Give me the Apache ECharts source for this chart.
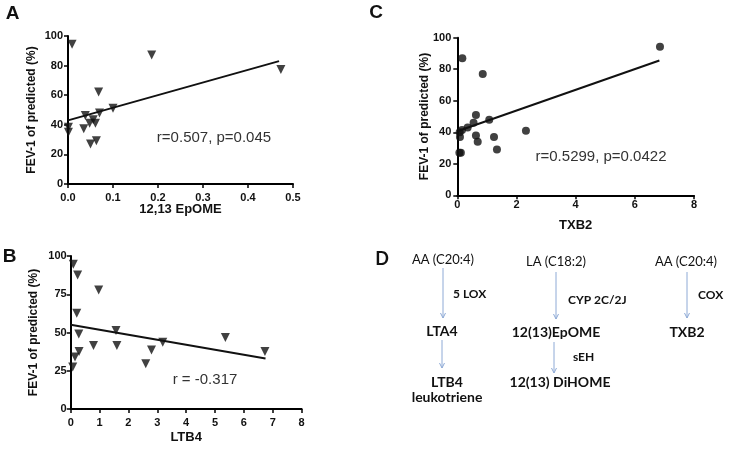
<!DOCTYPE html>
<html><head><meta charset="utf-8">
<script src="https://cdn.jsdelivr.net/npm/echarts@6/dist/echarts.min.js"></script>
<style>html,body{margin:0;padding:0;background:#fff}#c{width:729px;height:455px}</style>
</head><body><div id="c"></div>
<script>
// Panel A: 12,13 EpOME vs FEV-1
var aX = [0.009,0.186,0.473,0.068,0.001,0.001,0.035,0.0385,0.048,0.056,0.061,0.050,0.063,0.070,0.100];
var aY = [94.4,87.2,77.3,62.2,38.4,35.0,37.3,46.3,41.1,43.4,41.1,27.0,29.2,47.9,51.2];
var aFit = [[0.0,43],[0.469,83]];
// Panel B: LTB4 vs FEV-1
var bX = [0.09,0.24,0.97,0.21,0.28,0.15,0.29,0.07,0.79,1.57,1.60,2.60,2.80,3.19,5.36,6.73];
var bY = [94.6,87.6,77.8,62.6,49.0,34.0,37.6,27.4,41.5,51.3,41.5,29.6,38.5,43.7,46.7,37.6];
var bFit = [[0.0,55],[6.75,33]];
// Panel C: TXB2 vs FEV-1
var cX = [6.85,0.17,0.86,0.63,1.08,0.55,0.35,0.16,0.08,0.09,0.63,0.69,1.24,1.34,2.32,0.07,0.12];
var cY = [94.3,87.0,77.0,51.0,48.0,46.0,43.0,41.4,40.0,37.0,38.0,34.0,37.0,29.0,41.0,27.0,27.0];
var cFit = [[0.05,41],[6.83,85.5]];
var xTitles = ['12,13 EpOME','LTB4','TXB2'];
var yTitle = 'FEV-1 of predicted (%)';
var stats = ['r=0.507, p=0.045','r = -0.317','r=0.5299, p=0.0422'];

function pairs(xs, ys){ return xs.map(function(x,i){ return [x, ys[i]]; }); }

var FONT = '"Liberation Sans", Arial, sans-serif';
var DFONT = 'Lato, "Open Sans", sans-serif';
function xAx(idx, max, interval, name, margin, gap, fmt){
  return {type:'value', gridIndex:idx, min:0, max:max, interval:interval,
    name:name, nameLocation:'middle', nameGap:gap, nameMoveOverlap:false,
    nameTextStyle:{fontFamily:FONT, fontWeight:'bold', fontSize:13, color:'#111'},
    axisLine:{show:true, onZero:false, lineStyle:{color:'#000', width:2}},
    axisTick:{show:true, length:4, lineStyle:{color:'#000', width:1.5}},
    axisLabel:{fontFamily:FONT, fontWeight:'bold', fontSize:11, color:'#111', margin:margin,
      formatter: fmt || function(v){ return String(v); }},
    splitLine:{show:false}};
}
function yAx(idx, interval, margin, gap){
  return {type:'value', gridIndex:idx, min:0, max:100, interval:interval,
    name:yTitle, nameLocation:'middle', nameGap:gap, nameRotate:90, nameMoveOverlap:false,
    nameTextStyle:{fontFamily:FONT, fontWeight:'bold', fontSize:12, color:'#111'},
    axisLine:{show:true, onZero:false, lineStyle:{color:'#000', width:2}},
    axisTick:{show:true, length:4, lineStyle:{color:'#000', width:1.5}},
    axisLabel:{fontFamily:FONT, fontWeight:'bold', fontSize:11, color:'#111', margin:margin},
    splitLine:{show:false}};
}
function txt(x,y,s,size,weight,align,font,color){
  return {type:'text', x:x, y:y, style:{text:s, fontSize:size, fontWeight:weight||'normal',
    fontFamily:font||FONT, fill:color||'#111', align:align||'center', verticalAlign:'middle'}};
}
function arrow(x,y1,y2){
  var c = '#8eaad6';
  return [{type:'line', shape:{x1:x,y1:y1,x2:x,y2:y2}, style:{stroke:c, lineWidth:1}},
          {type:'polyline', shape:{points:[[x-2.5,y2-5],[x,y2],[x+2.5,y2-5]]}, style:{stroke:c, lineWidth:1, fill:null}}];
}
var graphics = [
  txt(12.5,13.5,'A',19,'bold'), txt(9.5,257,'B',19,'bold'), txt(376,13,'C',19,'bold'),
  txt(382,259,'D',18,'bold',null,DFONT),
  txt(214,138,stats[0],15,'normal',null,FONT,'#333'),
  txt(205,380,stats[1],15,'normal',null,FONT,'#333'),
  txt(601,157,stats[2],15,'normal',null,FONT,'#333'),
  txt(443,260,'AA (C20:4)',13,'normal',null,DFONT),
  txt(453,294,'5 LOX',12,'bold','left',DFONT),
  txt(442,331,'LTA4',14,'bold',null,DFONT),
  txt(447,382,'LTB4',14,'bold',null,DFONT),
  txt(447,397,'leukotriene',14,'bold',null,DFONT),
  txt(556,262,'LA (C18:2)',13,'normal',null,DFONT),
  txt(568,300,'CYP 2C/2J',12,'bold','left',DFONT),
  txt(556,332,'12(13)EpOME',14,'bold',null,DFONT),
  txt(573,357,'sEH',12,'bold','left',DFONT),
  txt(560,382,'12(13) DiHOME',14,'bold',null,DFONT),
  txt(686,262,'AA (C20:4)',13,'normal',null,DFONT),
  txt(698,295,'COX',12,'bold','left',DFONT),
  txt(687,332,'TXB2',14,'bold',null,DFONT)
].concat(arrow(443,268,318), arrow(442,340,368), arrow(556,272,319), arrow(554,342,373), arrow(687,272,318));

var tri = {symbol:'triangle', symbolRotate:180, symbolSize:9};
var option = {
  animation:false,
  grid:[
    {left:68, right:436, top:36, bottom:271},
    {left:70.7, right:427.4, top:256, bottom:46},
    {left:457.3, right:35, top:37.7, bottom:259.7}
  ],
  xAxis:[
    xAx(0,0.5,0.1,xTitles[0],8,19,function(v){return v.toFixed(1);}),
    xAx(1,8,1,xTitles[1],8,22),
    xAx(2,8,2,xTitles[2],4,24)
  ],
  yAxis:[ yAx(0,20,5,30), yAx(1,25,4,31), yAx(2,20,6,27) ],
  series:[
    Object.assign({type:'scatter', xAxisIndex:0, yAxisIndex:0, data:pairs(aX,aY), itemStyle:{color:'#111'}}, tri),
    {type:'line', xAxisIndex:0, yAxisIndex:0, data:aFit, showSymbol:false, symbol:'none', lineStyle:{color:'#111', width:2}},
    Object.assign({type:'scatter', xAxisIndex:1, yAxisIndex:1, data:pairs(bX,bY), itemStyle:{color:'#111'}}, tri),
    {type:'line', xAxisIndex:1, yAxisIndex:1, data:bFit, showSymbol:false, symbol:'none', lineStyle:{color:'#111', width:2}},
    {type:'scatter', xAxisIndex:2, yAxisIndex:2, data:pairs(cX,cY), symbol:'circle', symbolSize:8, itemStyle:{color:'#111'}},
    {type:'line', xAxisIndex:2, yAxisIndex:2, data:cFit, showSymbol:false, symbol:'none', lineStyle:{color:'#111', width:2}}
  ],
  graphic: graphics
};
var chart = echarts.init(document.getElementById('c'));
chart.setOption(option);
</script></body></html>
